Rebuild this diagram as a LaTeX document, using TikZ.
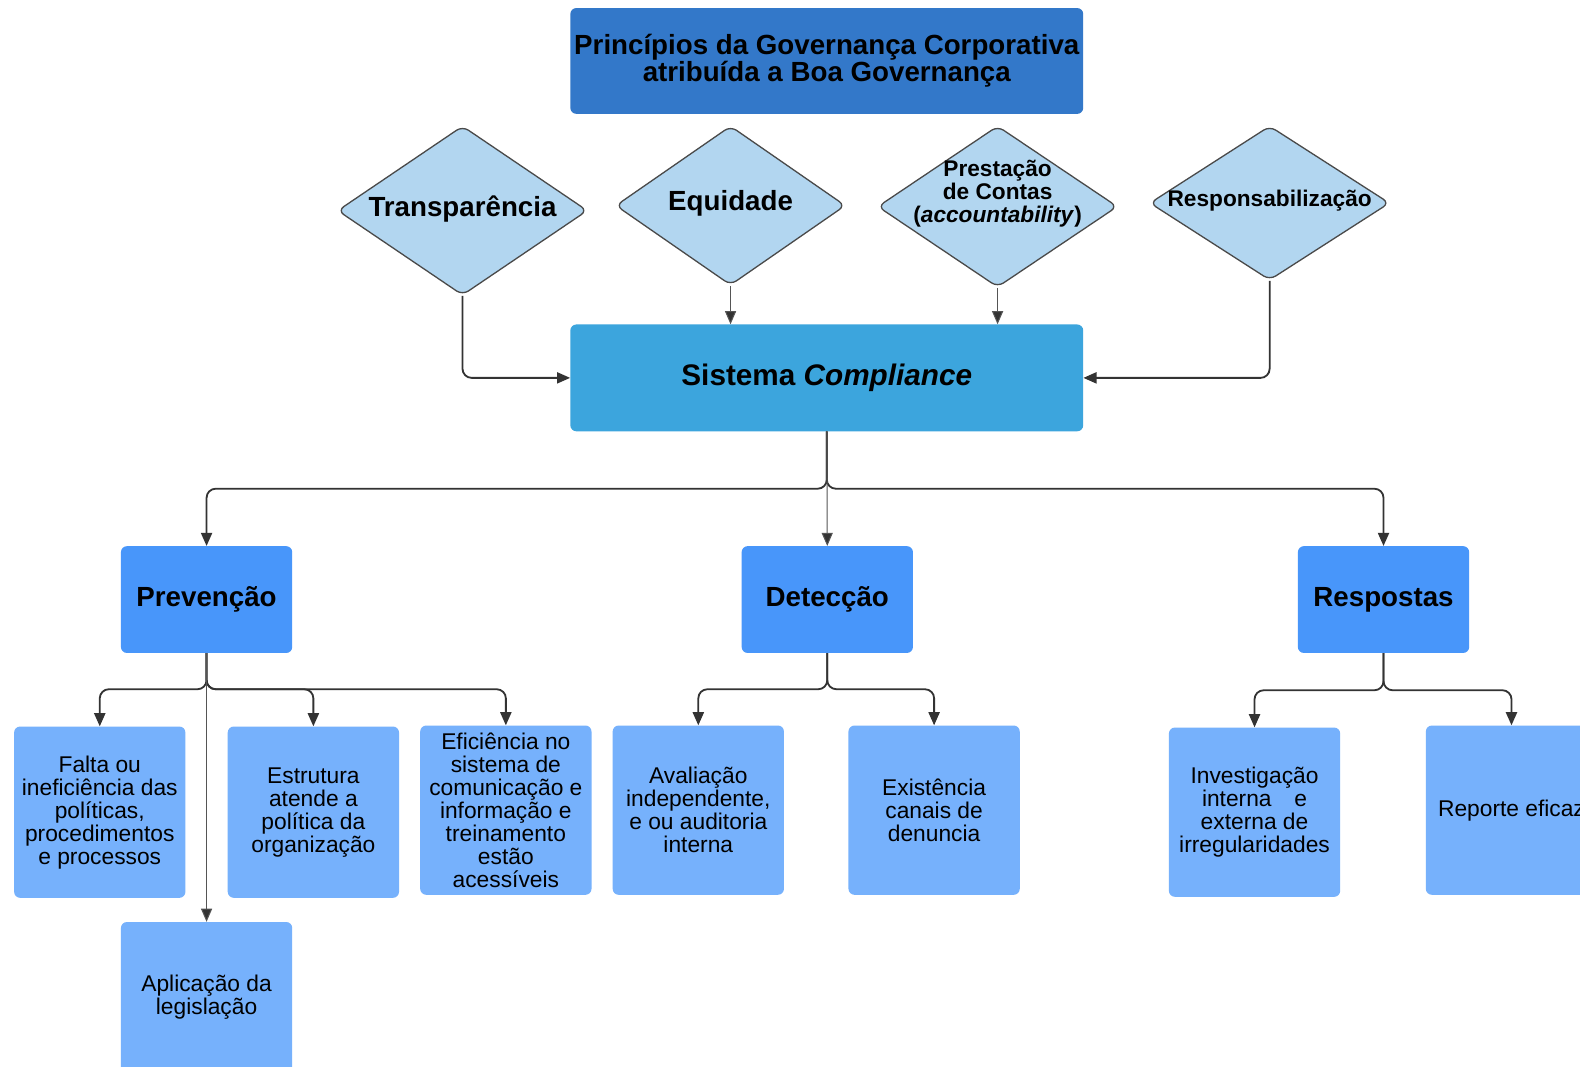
\documentclass[tikz,border=0pt]{standalone}
\usepackage{fontspec}
\setmainfont{Liberation Sans}
\usetikzlibrary{shapes.geometric,arrows.meta}

\definecolor{titleblue}{HTML}{3378C9}
\definecolor{coreblue}{HTML}{3CA5DD}
\definecolor{pillarblue}{HTML}{4896FA}
\definecolor{itemblue}{HTML}{76B1FC}
\definecolor{rhombfill}{HTML}{B2D6F0}
\definecolor{rhombline}{HTML}{4A4A4A}
\definecolor{wire}{HTML}{333333}
\definecolor{thinwire}{HTML}{555555}

\begin{document}
\begin{tikzpicture}[x=1pt,y=-1pt,
  box/.style={rectangle, rounded corners=6pt, inner sep=0pt, align=center, text=black},
  titlebox/.style={box, fill=titleblue, minimum width=509, minimum height=105,
    font=\fontsize{27.5}{27}\selectfont\bfseries},
  corebox/.style={box, fill=coreblue, minimum width=509, minimum height=106,
    font=\fontsize{29.5}{30}\selectfont\bfseries},
  pillar/.style={box, fill=pillarblue, minimum width=170, minimum height=106,
    font=\fontsize{27.5}{28}\selectfont\bfseries},
  item/.style={box, fill=itemblue, minimum width=170, minimum height=168,
    font=\fontsize{22.6}{22.8}\selectfont},
  rhomb/.style={diamond, draw=rhombline, line width=1.3pt, fill=rhombfill,
    rounded corners=7pt, inner sep=0pt},
  bigtxt/.style={font=\fontsize{27.5}{28}\selectfont\bfseries, align=center},
  smalltxt/.style={font=\fontsize{22.5}{22.6}\selectfont\bfseries, align=center},
  link/.style={draw=wire, line width=1.8pt, rounded corners=9pt,
    -{Triangle[length=13pt,width=11pt]}},
  thinlink/.style={draw=thinwire, line width=1pt,
    -{Triangle[length=13pt,width=11pt,fill=wire]}}
]
\useasboundingbox (0,0) rectangle (1568,1058);
\fill[white] (0,0) rectangle (1568,1058);
\clip (0,0) rectangle (1568,1058);

% header and central system
\node[titlebox] (title) at (820.5,60.5) {Princípios da Governança Corporativa\\atribuída a Boa Governança};
\node[corebox] (sis) at (820.5,375) {Sistema \textit{Compliance}};

% governance principles
\node[rhomb, minimum width=248, minimum height=168,
  label={[name=d1t, bigtxt, yshift=2pt]center:Transparência}] (d1) at (459,209) {};
\node[rhomb, minimum width=228, minimum height=158,
  label={[name=d2t, bigtxt, yshift=2pt]center:Equidade}] (d2) at (725,204) {};
\node[rhomb, minimum width=238, minimum height=160,
  label={[name=d3t, smalltxt, yshift=13pt]center:Prestação\\de Contas\\(\textit{accountability})}] (d3) at (990,205) {};
\node[rhomb, minimum width=238, minimum height=153,
  label={[name=d4t, smalltxt, yshift=2.5pt]center:Responsabilização}] (d4) at (1260,201.5) {};

% pillars
\node[pillar] (prev) at (205,595) {Prevenção};
\node[pillar] (det) at (821,595) {Detecção};
\node[pillar] (resp) at (1373,595) {Respostas};

% items
\node[item, minimum height=170] (falta) at (99,806) {Falta ou\\ineficiência das\\políticas,\\procedimentos\\e processos};
\node[item, minimum height=170] (estr) at (311,806) {Estrutura\\atende a\\política da\\organização};
\node[item] (efic) at (502,804) {\raisebox{3pt}{\parbox{170pt}{\centering Eficiência no\\sistema de\\comunicação e\\informação e\\treinamento\\estão\\acessíveis}}};
\node[item, minimum height=150] (apl) at (205,990) {Aplicação da\\legislação};
\node[item] (aval) at (693,804) {Avaliação\\independente,\\e ou auditoria\\interna};
\node[item] (exist) at (927,804) {Existência\\canais de\\denuncia};
\node[item] (inv) at (1245,806) {Investigação\\interna\quad e\\externa de\\irregularidades};
\node[item] (rep) at (1500,804) {Reporte eficaz};

% junction points
\coordinate (j1) at (820.5,485);
\coordinate (j2) at (205,684);
\coordinate (j3) at (821,684);
\coordinate (j4) at (1373,685);

% principles to system
\draw[link] (d1.south) |- (sis.west);
\draw[thinlink] (d2.south) -- (d2.south |- sis.north);
\draw[thinlink] (d3.south) -- (d3.south |- sis.north);
\draw[link] (d4.south) |- (sis.east);

% system to pillars
\draw[link] (sis.south) -- (j1) -| (prev.north);
\draw[link] (sis.south) -- (j1) -| (resp.north);
\draw[thinlink] (sis.south) -- (det.north);

% pillars to items
\draw[link] (prev.south) -- (j2) -| (falta.north);
\draw[link] (prev.south) -- (j2) -| (estr.north);
\draw[link] (prev.south) -- (j2) -| (efic.north);
\draw[thinlink] (prev.south) -- (apl.north);

\draw[link] (det.south) -- (j3) -| (aval.north);
\draw[link] (det.south) -- (j3) -| (exist.north);

\draw[link] (resp.south) -- (j4) -| (inv.north);
\draw[link] (resp.south) -- (j4) -| (rep.north);
\end{tikzpicture}
\end{document}
